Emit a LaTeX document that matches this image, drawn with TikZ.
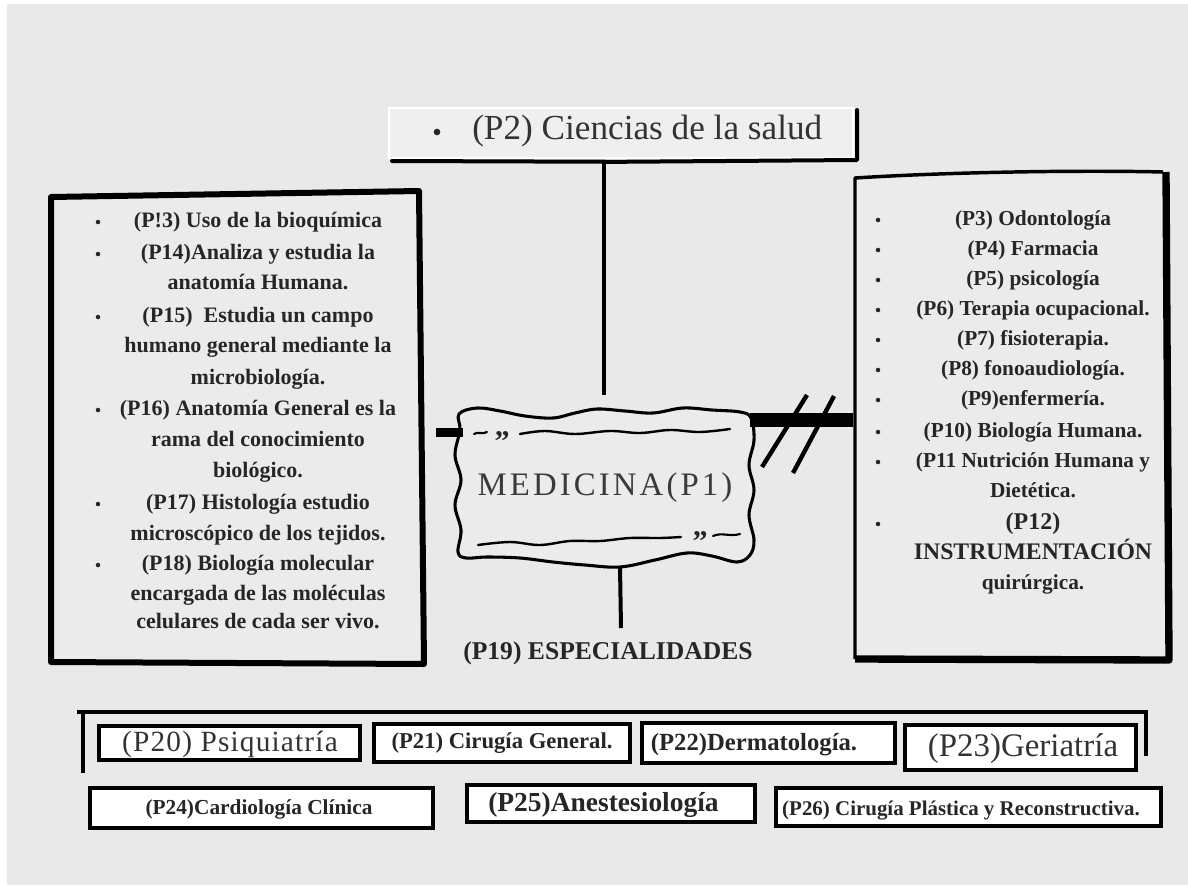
\documentclass[tikz,border=0pt]{standalone}
\usepackage{fontspec}
\setmainfont{Liberation Serif}
\newfontfamily\medfont[LetterSpace=9.5]{Liberation Serif}
\newfontfamily\spfont[LetterSpace=4]{Liberation Serif}
\definecolor{bg}{HTML}{E9E9E9}
\definecolor{boxin}{HTML}{EBEBEB}
\definecolor{topin}{HTML}{EFEFEF}
\definecolor{ink}{HTML}{262626}
\definecolor{soft}{HTML}{333333}
\definecolor{medtxt}{HTML}{3A3A3A}
\tikzset{
  ltxt/.style={font=\fontsize{16.5}{20}\selectfont\bfseries, text=ink, inner sep=0pt, anchor=base},
  rtxt/.style={font=\fontsize{16}{20}\selectfont\bfseries, text=ink, inner sep=0pt, anchor=base},
  dot/.style={circle, fill=ink, draw=none, inner sep=0pt, minimum size=3.4pt},
  conn/.style={line width=3pt, draw=black},
  sbox/.style={draw=black, line width=3pt, fill=white, inner sep=0pt, rectangle},
  bold/.style={text=ink, inner sep=0pt},
  reg/.style={text=soft, inner sep=0pt}
}
\begin{document}
\begin{tikzpicture}[x=0.75pt,y=-0.75pt]
\useasboundingbox (0,0) rectangle (1188,885);
\fill[white] (0,0) rectangle (1188,885);
\fill[bg] (7,4) rectangle (1188,885);

% ---------- top box (P2)
\draw[white, line width=2pt, fill=topin] (389,108) rectangle (853,158);
\draw[line width=3pt, line cap=round, line join=round] (392,161) -- (620,161.8) -- (857,160) -- (857,110);
\node[dot, minimum size=5pt] (p2dot) at (437,132) {};
\node[reg, font=\fontsize{26.4}{30}\selectfont, anchor=base west] (p2) at (472,139) {(P2) Ciencias de la salud};

% ---------- left box
\draw[line width=4.5pt, line join=round, fill=boxin] (51,197) -- (419,191) -- (424,664) -- (51,662) -- cycle;
\foreach \y/\t [count=\i] in {
  220/{(P!3) Uso de la bioquímica},
  252/{(P14)Analiza y estudia la},
  282/{anatomía Humana.},
  315/{(P15)\ \ Estudia un campo},
  345/{humano general mediante la},
  377/{microbiología.},
  408/{(P16) Anatomía General es la},
  439/{rama del conocimiento},
  470/{biológico.},
  502/{(P17) Histología estudio},
  533/{microscópico de los tejidos.},
  563/{(P18) Biología molecular},
  593/{encargada de las moléculas},
  621/{celulares de cada ser vivo.}}
  \node[ltxt] (l\i) at (258,\y+7) {\t};
\foreach \y [count=\i] in {222,254,317,410,504,565}
  \node[dot] (lb\i) at (98,\y) {};

% ---------- right box
\fill[boxin] (855,178) rectangle (1165,658);
\draw[line width=2.6pt, line join=round] (855,659) -- (855,178) .. controls (950,172) and (1080,170) .. (1163,172);
\draw[line width=5.5pt, line join=round] (1166,172) -- (1169,660) -- (855,659);
\foreach \y/\t [count=\i] in {
  218/{(P3) Odontología},
  248/{(P4) Farmacia},
  278/{(P5) psicología},
  308/{(P6) Terapia ocupacional.},
  338/{(P7) fisioterapia.},
  368/{(P8) fonoaudiología.},
  398/{(P9)enfermería.},
  430/{(P10) Biología Humana.},
  460/{(P11 Nutrición Humana y},
  490/{Dietética.},
  522/{{\fontsize{18}{20}\selectfont (P12)}},
  552/{{\fontsize{17.8}{20}\selectfont INSTRUMENTACIÓN}},
  582/{quirúrgica.}}
  \node[rtxt] (r\i) at (1033,\y+7) {\t};
\foreach \y [count=\i] in {220,250,280,310,340,370,400,432,462,524}
  \node[dot] (rb\i) at (878,\y) {};

% ---------- central MEDICINA shape
\draw[line width=2.3pt, line join=round, fill=boxin] plot[smooth cycle, tension=0.6] coordinates {
 (459,414) (477,408) (500,411) (525,416) (553,418) (575,413) (597,409) (625,411)
 (653,413) (683,408) (712,410) (740,412) (751,418) (754,440) (749,465) (754,490)
 (749,515) (754,540) (750,555) (737,562) (712,556) (687,553) (655,560) (620,567)
 (585,565) (553,562) (520,558) (487,557) (466,558) (458,552) (461,530) (455,505)
 (461,480) (455,455) (460,430)};
\coordinate (med) at (604,487);
% inner ornaments
\draw[line width=1.6pt, line cap=round] (474,434) .. controls (478,431) and (482,435) .. (487,432);
\node[bold, font=\fontsize{22.5}{24}\selectfont\bfseries, anchor=base] (q1) at (502,451) {”};
\draw[line width=1.8pt, line cap=round] plot[smooth, tension=0.6] coordinates {
 (520,434) (545,431) (575,434) (610,431) (640,433) (670,430) (700,432) (730,429)};
\draw[line width=1.8pt, line cap=round] plot[smooth, tension=0.6] coordinates {
 (478,545) (510,542) (540,545) (570,541) (600,541) (630,538) (660,538) (681,537)};
\node[bold, font=\fontsize{22.5}{24}\selectfont\bfseries, anchor=base] (q2) at (700,551) {”};
\draw[line width=1.6pt, line cap=round] (713,536) .. controls (722,532) and (730,537) .. (740,534);
\node[font=\medfont\fontsize{24.6}{28}\selectfont, text=medtxt, inner sep=0pt, anchor=base] (medtext) at (605,495) {MEDICINA(P1)};

% ---------- connectors
\coordinate (c1a) at (604,161); \coordinate (c1b) at (604,395);
\draw[conn] (c1a) -- (c1b);
\coordinate (c2a) at (436,432); \coordinate (c2b) at (463,432);
\draw[line width=6.75pt] (c2a) -- (c2b);
\coordinate (c3a) at (750,420); \coordinate (c3b) at (853,420);
\draw[line width=10.5pt] (c3a) -- (c3b);
\coordinate (s1a) at (762,467); \coordinate (s1b) at (807,395);
\coordinate (s2a) at (793,473); \coordinate (s2b) at (834,396);
\draw[line width=3.3pt] (s1a) -- (s1b);
\draw[line width=3.3pt] (s2a) -- (s2b);
\coordinate (c4a) at (620,567); \coordinate (c4b) at (621,628);
\draw[conn] (c4a) -- (c4b);
\node[bold, font=\fontsize{19.2}{22}\selectfont\bfseries, anchor=base] (p19) at (608,659) {(P19) ESPECIALIDADES};

% ---------- bracket
\coordinate (bkL) at (77,712); \coordinate (bkR) at (1146,712);
\draw[conn] (bkL) -- (bkR) -- (1146,756);
\draw[conn] (83,712) -- (83,773);

% ---------- specialities
\node[sbox, minimum width={261*0.75pt}, minimum height={34*0.75pt}] (b20) at (229.5,743) {};
\node[reg, font=\spfont\fontsize{22}{26}\selectfont, anchor=base] (t20) at (230,751) {(P20) Psiquiatría};
\node[sbox, minimum width={256*0.75pt}, minimum height={38*0.75pt}] (b21) at (502,743) {};
\node[bold, font=\fontsize{17}{20}\selectfont\bfseries, anchor=base] (t21) at (502,748) {(P21) Cirugía General.};
\node[sbox, minimum width={253*0.75pt}, minimum height={40*0.75pt}] (b22) at (768.5,743) {};
\node[bold, font=\fontsize{18.5}{20}\selectfont\bfseries, anchor=base] (t22) at (754,750) {(P22)Dermatología.};
\node[sbox, minimum width={231*0.75pt}, minimum height={45*0.75pt}] (b23) at (1020.5,747.5) {};
\node[reg, font=\fontsize{24.7}{26}\selectfont, anchor=base] (t23) at (1023,756) {(P23)Geriatría};
\node[sbox, minimum width={343*0.75pt}, minimum height={40*0.75pt}] (b24) at (261.5,808) {};
\node[bold, font=\fontsize{16}{20}\selectfont\bfseries, anchor=base] (t24) at (259,814) {(P24)Cardiología Clínica};
\node[sbox, minimum width={288*0.75pt}, minimum height={37*0.75pt}] (b25) at (611,803.5) {};
\node[bold, font=\fontsize{20.6}{22}\selectfont\bfseries, anchor=base] (t25) at (603.5,811) {(P25)Anestesiología};
\node[sbox, minimum width={385*0.75pt}, minimum height={38*0.75pt}] (b26) at (968.5,807) {};
\node[bold, font=\fontsize{15.7}{20}\selectfont\bfseries, anchor=base] (t26) at (961,815) {(P26) Cirugía Plástica y Reconstructiva.};
\end{tikzpicture}
\end{document}
